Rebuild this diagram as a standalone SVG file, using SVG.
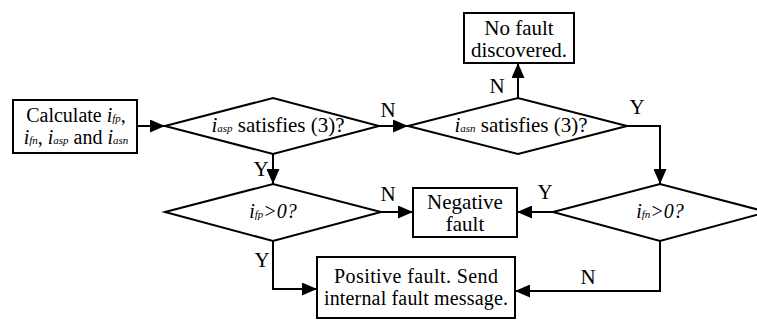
<svg xmlns="http://www.w3.org/2000/svg" width="757" height="320" viewBox="0 0 757 320">
<defs>
<style>
.s{fill:#fff;stroke:#000;stroke-width:2}
.c{fill:none;stroke:#000;stroke-width:2}
.m{text-anchor:middle}
.i{font-style:italic}
.sub{font-style:italic}
</style>
<marker id="a" viewBox="0 0 15 13" refX="15" refY="6.5" markerWidth="15" markerHeight="13" markerUnits="userSpaceOnUse" orient="auto">
<path d="M0,0 L15,6.5 L0,13 z" fill="#000"/>
</marker>
</defs>
<rect width="757" height="320" fill="#fff"/>
<g id="connectors">
<line class="c" x1="137" y1="126" x2="165" y2="126" marker-end="url(#a)"/>
<line class="c" x1="379" y1="126" x2="408" y2="126" marker-end="url(#a)"/>
<line class="c" x1="518" y1="98" x2="518" y2="63" marker-end="url(#a)"/>
<polyline class="c" points="627,126 660,126 660,184" marker-end="url(#a)"/>
<line class="c" x1="273" y1="154" x2="273" y2="184" marker-end="url(#a)"/>
<line class="c" x1="381" y1="212" x2="413" y2="212" marker-end="url(#a)"/>
<line class="c" x1="553" y1="212" x2="517" y2="212" marker-end="url(#a)"/>
<polyline class="c" points="273,241 273,289 317,289" marker-end="url(#a)"/>
<polyline class="c" points="660,241 660,291 515,291" marker-end="url(#a)"/>
<text x="388" y="117" class="m" font-family="Liberation Serif" font-size="21">N</text>
<text x="497" y="93" class="m" font-family="Liberation Serif" font-size="21">N</text>
<text x="637" y="114" class="m" font-family="Liberation Serif" font-size="21">Y</text>
<text x="261" y="176" class="m" font-family="Liberation Serif" font-size="21">Y</text>
<text x="388" y="201" class="m" font-family="Liberation Serif" font-size="21">N</text>
<text x="545" y="199" class="m" font-family="Liberation Serif" font-size="21">Y</text>
<text x="262" y="267" class="m" font-family="Liberation Serif" font-size="21">Y</text>
<text x="588" y="284" class="m" font-family="Liberation Serif" font-size="21">N</text>
</g>
<g id="calc">
<rect class="s" x="13" y="100" width="124" height="53"/>
<text x="76" y="122" class="m" font-family="Liberation Serif" font-size="20">Calculate <tspan class="i">i</tspan><tspan class="sub" font-size="11">fp</tspan>,</text>
<text x="76" y="144" class="m" font-family="Liberation Serif" font-size="20"><tspan class="i">i</tspan><tspan class="sub" font-size="11">fn</tspan>, <tspan class="i">i</tspan><tspan class="sub" font-size="11">asp</tspan> and <tspan class="i">i</tspan><tspan class="sub" font-size="11">asn</tspan></text>
</g>
<g id="d1">
<polygon class="s" points="165,126 273,98 379,126 273,154"/>
<text x="278" y="132" class="m" font-family="Liberation Serif" font-size="21"><tspan class="i">i</tspan><tspan class="sub" font-size="11">asp</tspan> satisfies (3)?</text>
</g>
<g id="d2">
<polygon class="s" points="408,126 518,98 627,126 518,154"/>
<text x="521" y="132" class="m" font-family="Liberation Serif" font-size="21"><tspan class="i">i</tspan><tspan class="sub" font-size="11">asn</tspan> satisfies (3)?</text>
</g>
<g id="nofault">
<rect class="s" x="464" y="13" width="110" height="50"/>
<text x="519" y="35" class="m" font-family="Liberation Serif" font-size="21">No fault</text>
<text x="519" y="57" class="m" font-family="Liberation Serif" font-size="21">discovered.</text>
</g>
<g id="d4">
<polygon class="s" points="165,212 273,184 381,212 273,241"/>
<text x="273" y="218" class="m i" font-family="Liberation Serif" font-size="20">i<tspan class="sub" font-size="11">fp</tspan>&gt;0?</text>
</g>
<g id="negative">
<rect class="s" x="413" y="188" width="104" height="49"/>
<text x="465" y="209" class="m" font-family="Liberation Serif" font-size="21">Negative</text>
<text x="465" y="231" class="m" font-family="Liberation Serif" font-size="21">fault</text>
</g>
<g id="d3">
<polygon class="s" points="553,212 660,184 767,212 660,241"/>
<text x="660" y="218" class="m i" font-family="Liberation Serif" font-size="20">i<tspan class="sub" font-size="11">fn</tspan>&gt;0?</text>
</g>
<g id="positive">
<rect class="s" x="317" y="257" width="198" height="61"/>
<text x="416" y="283" class="m" font-family="Liberation Serif" font-size="20" textLength="164">Positive fault. Send</text>
<text x="416" y="305" class="m" font-family="Liberation Serif" font-size="20" textLength="184">internal fault message.</text>
</g>
</svg>
